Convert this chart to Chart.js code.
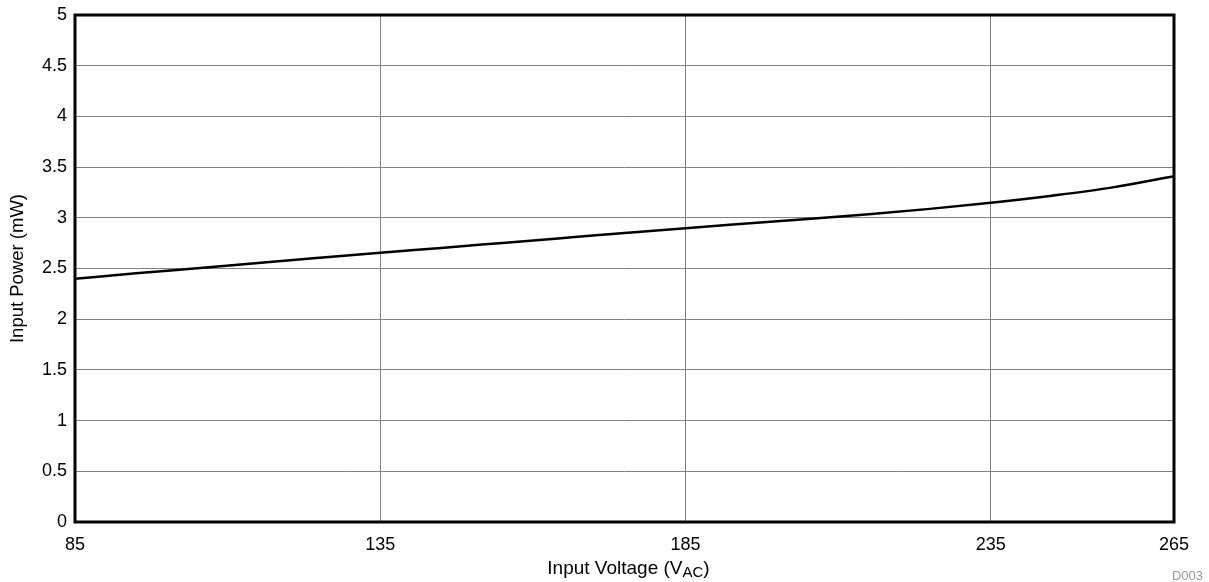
<!DOCTYPE html>
<html>
<head>
<meta charset="utf-8">
<script src="https://cdn.jsdelivr.net/npm/chart.js@4/dist/chart.umd.min.js"></script>
<style>
  html, body { margin: 0; padding: 0; background: #ffffff; }
  #wrap { width: 1209px; height: 582px; position: relative; }
</style>
</head>
<body>
<div id="wrap"><canvas id="c" width="1209" height="582"></canvas></div>
<script>
// ---- Data ----
const voltages = [85, 95, 105, 115, 125, 135, 145, 155, 165, 175, 185, 195, 205, 215, 225, 235, 245, 255, 265];
const inputPower = [2.40, 2.452, 2.503, 2.554, 2.605, 2.655, 2.703, 2.752, 2.801, 2.85, 2.898, 2.943, 2.988, 3.035, 3.088, 3.148, 3.218, 3.30, 3.41];
const xTickValues = [85, 135, 185, 235, 265];
const yMin = 0, yMax = 5, yStep = 0.5;
const xTitleMain = 'Input Voltage (V';
const xTitleSub = 'AC';
const xTitleEnd = ')';
const yTitle = 'Input Power (mW)';
const figureId = 'D003';

const FONT = '"Liberation Sans", Arial, sans-serif';

const frame = {
  id: 'frame',
  afterDraw(chart) {
    const ctx = chart.ctx;
    const a = chart.chartArea;
    ctx.save();
    // border box
    ctx.strokeStyle = '#000';
    ctx.lineWidth = 3;
    ctx.strokeRect(a.left, a.top, a.right - a.left, a.bottom - a.top);
    // x title with subscript
    const big = '19px ' + FONT, small = '15px ' + FONT;
    ctx.fillStyle = '#000';
    ctx.textBaseline = 'alphabetic';
    ctx.font = big;
    const w1 = ctx.measureText(xTitleMain).width;
    const w3 = ctx.measureText(xTitleEnd).width;
    ctx.font = small;
    const w2 = ctx.measureText(xTitleSub).width;
    const total = w1 + w2 + w3;
    let x = (a.left + a.right) / 2 - total / 2 + 4;
    const base = 574;
    ctx.textAlign = 'left';
    ctx.font = big; ctx.fillText(xTitleMain, x, base); x += w1;
    ctx.font = small; ctx.fillText(xTitleSub, x, base + 3); x += w2;
    ctx.font = big; ctx.fillText(xTitleEnd, x, base);
    // y title rotated
    ctx.save();
    ctx.translate(18, (a.top + a.bottom) / 2);
    ctx.rotate(-Math.PI / 2);
    ctx.textAlign = 'center';
    ctx.textBaseline = 'middle';
    ctx.font = '18.5px ' + FONT;
    ctx.fillText(yTitle, 0, 0);
    ctx.restore();
    // figure id
    ctx.font = '13px ' + FONT;
    ctx.fillStyle = '#999';
    ctx.textAlign = 'right';
    ctx.textBaseline = 'alphabetic';
    ctx.fillText(figureId, 1203, 580);
    ctx.restore();
  }
};

const points = voltages.map((v, i) => ({ x: v, y: inputPower[i] }));

new Chart(document.getElementById('c'), {
  type: 'line',
  data: {
    datasets: [{
      data: points,
      borderColor: '#000',
      borderWidth: 2.5,
      pointRadius: 0,
      fill: false,
      cubicInterpolationMode: 'monotone'
    }]
  },
  options: {
    responsive: false,
    animation: false,
    devicePixelRatio: 1,
    layout: { padding: { left: 0, top: 15, right: 35, bottom: 0 } },
    plugins: { legend: { display: false }, tooltip: { enabled: false } },
    scales: {
      x: {
        type: 'linear',
        min: xTickValues[0],
        max: xTickValues[xTickValues.length - 1],
        afterBuildTicks: (s) => { s.ticks = xTickValues.map(v => ({ value: v })); },
        afterFit: (s) => { s.height = 60; },
        grid: { color: '#808080', lineWidth: 1, drawTicks: false },
        border: { display: false },
        ticks: { color: '#000', font: { family: FONT, size: 18 }, padding: 12, maxRotation: 0, autoSkip: false }
      },
      y: {
        type: 'linear',
        min: yMin, max: yMax,
        afterFit: (s) => { s.width = 75; },
        grid: { color: '#808080', lineWidth: 1, drawTicks: false },
        border: { display: false },
        ticks: { stepSize: yStep, color: '#000', font: { family: FONT, size: 18, lineHeight: 0.7 }, padding: 8,
                 callback: (v) => String(v) }
      }
    }
  },
  plugins: [frame]
});
</script>
</body>
</html>
